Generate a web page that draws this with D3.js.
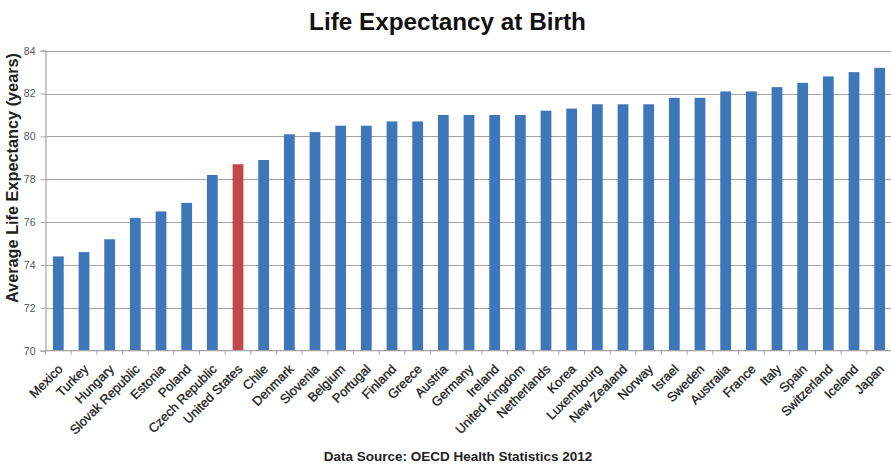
<!DOCTYPE html>
<html>
<head>
<meta charset="utf-8">
<script src="https://cdn.jsdelivr.net/npm/d3@7/dist/d3.min.js"></script>
<style>
  html, body { margin: 0; padding: 0; background: #fff; }
  svg { display: block; font-family: "Liberation Sans", Arial, sans-serif; }
</style>
</head>
<body>
<svg id="chart" width="891" height="464"></svg>
<script>
// Life expectancy at birth by OECD country (years)
const countries = ["Mexico", "Turkey", "Hungary", "Slovak Republic", "Estonia", "Poland",
  "Czech Republic", "United States", "Chile", "Denmark", "Slovenia", "Belgium", "Portugal",
  "Finland", "Greece", "Austria", "Germany", "Ireland", "United Kingdom", "Netherlands",
  "Korea", "Luxembourg", "New Zealand", "Norway", "Israel", "Sweden", "Australia", "France",
  "Italy", "Spain", "Switzerland", "Iceland", "Japan"];
const lifeExpectancy = [74.4, 74.6, 75.2, 76.2, 76.5, 76.9, 78.2, 78.7, 78.9, 80.1, 80.2, 80.5,
  80.5, 80.7, 80.7, 81.0, 81.0, 81.0, 81.0, 81.2, 81.3, 81.5, 81.5, 81.5, 81.8, 81.8, 82.1,
  82.1, 82.3, 82.5, 82.8, 83.0, 83.2];
const highlighted = ["United States"];
const yTicks = [70, 72, 74, 76, 78, 80, 82, 84];

const svg = d3.select("#chart");
const plotLeft = 45.5, plotRight = 892.5, plotTop = 50.7, plotBottom = 350.7;

const x = d3.scaleBand().domain(countries).range([plotLeft, plotRight]).paddingInner(0.58).paddingOuter(0.29);
const y = d3.scaleLinear().domain([70, 84]).range([plotBottom, plotTop]);

// Title
svg.append("text")
  .attr("x", 447.5).attr("y", 29.5)
  .attr("text-anchor", "middle")
  .attr("font-size", 24.3).attr("font-weight", "bold").attr("fill", "#111")
  .text("Life Expectancy at Birth");

// Horizontal gridlines
svg.append("g").selectAll("line").data(yTicks.slice(1)).join("line")
  .attr("x1", plotLeft).attr("x2", 891)
  .attr("y1", d => Math.round(y(d)) + 0.5).attr("y2", d => Math.round(y(d)) + 0.5)
  .attr("stroke", "#a3a3a3").attr("stroke-width", 1.2);

// Y axis
const yAxis = svg.append("g")
  .attr("transform", `translate(${plotLeft},0)`)
  .call(d3.axisLeft(y).tickValues(yTicks).tickSize(5).tickPadding(5).tickFormat(d3.format("d")));
yAxis.select(".domain").attr("stroke", "#a3a3a3").attr("stroke-width", 1.2);
yAxis.selectAll(".tick line").attr("stroke", "#a3a3a3");
yAxis.selectAll(".tick text").attr("font-size", 10.5).attr("fill", "#555")
  .attr("font-family", "Liberation Sans, Arial, sans-serif");

// Y axis title
svg.append("text")
  .attr("transform", "translate(18,178) rotate(-90)")
  .attr("text-anchor", "middle")
  .attr("font-size", 16.3).attr("font-weight", "bold").attr("fill", "#222")
  .text("Average Life Expectancy (years)");

// Bars
svg.append("g").selectAll("rect").data(countries).join("rect")
  .attr("x", d => x(d))
  .attr("width", x.bandwidth())
  .attr("y", (d, i) => y(lifeExpectancy[i]))
  .attr("height", (d, i) => plotBottom - y(lifeExpectancy[i]))
  .attr("fill", d => highlighted.includes(d) ? "#c0474a" : "#3e76ba");

// X axis line and ticks at category boundaries
const step = x.step();
const boundary = i => x(countries[0]) - x.paddingOuter() * step + i * step;
svg.append("line")
  .attr("x1", plotLeft).attr("x2", 891)
  .attr("y1", plotBottom).attr("y2", plotBottom)
  .attr("stroke", "#a3a3a3").attr("stroke-width", 1.2);
svg.append("g").selectAll("line").data(d3.range(countries.length + 1)).join("line")
  .attr("x1", boundary).attr("x2", boundary)
  .attr("y1", plotBottom).attr("y2", plotBottom + 4)
  .attr("stroke", "#a3a3a3");

// Rotated category labels
svg.append("g").selectAll("text").data(countries).join("text")
  .attr("transform", d => `translate(${x(d) + x.bandwidth() / 2 + 2},${plotBottom + 16}) rotate(-45)`)
  .attr("text-anchor", "end")
  .attr("dy", "0.35em")
  .attr("font-size", 12.9).attr("fill", "#1a1a1a")
  .attr("stroke", "#1a1a1a").attr("stroke-width", 0.3)
  .text(d => d);

// Source note
svg.append("text")
  .attr("x", 458).attr("y", 460.5)
  .attr("text-anchor", "middle")
  .attr("font-size", 13.5).attr("font-weight", "bold").attr("fill", "#222")
  .text("Data Source: OECD Health Statistics 2012");
</script>
</body>
</html>
